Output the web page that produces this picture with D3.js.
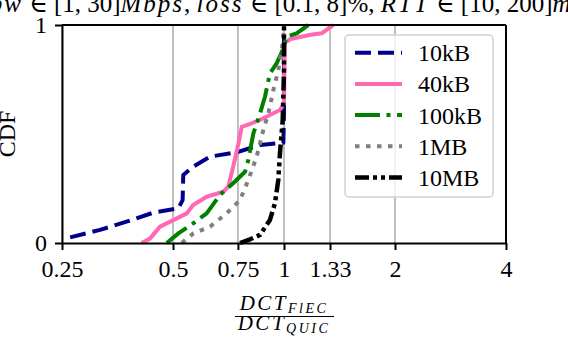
<!DOCTYPE html>
<html>
<head>
<meta charset="utf-8">
<script src="https://cdn.jsdelivr.net/npm/d3@7"></script>
<style>
  body { margin: 0; background: #fff; }
  svg { display: block; font-family: "Liberation Serif", "DejaVu Serif", serif; }
</style>
</head>
<body>
<script>
// tick values / labels on the x axis (log2 scale)
const tickValues = [0.25, 0.5, 0.75, 1, 1.333, 2, 4];
const tickLabels = ["0.25", "0.5", "0.75", "1", "1.33", "2", "4"];

// series: DCT ratio (x) and CDF (y)
const names = ["10kB", "40kB", "100kB", "1MB", "10MB"];

const ratio10kB = [0.263, 0.317, 0.374, 0.442, 0.517, 0.531, 0.533, 0.567, 0.63, 0.744, 0.861, 0.996, 1.0, 1.0];
const cdf10kB   = [0.026, 0.06, 0.098, 0.139, 0.159, 0.197, 0.312, 0.35, 0.396, 0.416, 0.45, 0.46, 0.6, 1.0];

const ratio40kB = [0.411, 0.433, 0.461, 0.501, 0.545, 0.567, 0.617, 0.684, 0.706, 0.728, 0.751, 0.768, 0.817, 0.879, 0.975, 1.0, 1.005, 1.04, 1.105, 1.18, 1.265, 1.36];
const cdf40kB   = [0.0, 0.02, 0.075, 0.105, 0.136, 0.174, 0.212, 0.235, 0.258, 0.35, 0.45, 0.533, 0.549, 0.572, 0.61, 0.64, 0.92, 0.935, 0.945, 0.955, 0.962, 1.0];

const ratio100kB = [0.481, 0.517, 0.567, 0.617, 0.67, 0.728, 0.784, 0.80, 0.826, 0.861, 0.888, 0.916, 0.955, 0.992, 1.017, 1.082, 1.164];
const cdf100kB   = [0.0, 0.044, 0.09, 0.136, 0.22, 0.274, 0.327, 0.38, 0.503, 0.595, 0.671, 0.778, 0.824, 0.885, 0.946, 0.962, 1.0];

const ratio1MB = [0.528, 0.568, 0.63, 0.699, 0.76, 0.80, 0.843, 0.879, 0.907, 0.936, 0.965, 0.986, 1.0, 1.003];
const cdf1MB   = [0.0, 0.044, 0.075, 0.136, 0.197, 0.289, 0.396, 0.518, 0.595, 0.702, 0.794, 0.885, 0.977, 1.0];

const ratio10MB = [0.76, 0.809, 0.861, 0.916, 0.945, 0.965, 0.975, 0.992, 1.0, 1.0];
const cdf10MB   = [0.0, 0.017, 0.037, 0.106, 0.182, 0.289, 0.411, 0.564, 0.794, 1.0];

// title pieces: text, italic?
const titleParts = [
  ["bw", true], [" ∈ [1, 30]", false], ["Mbps", true], [", ", false], ["loss", true],
  [" ∈ [0.1, 8]%, ", false], ["RTT", true], [" ∈ [10, 200]", false], ["ms", true]
];

const colors = ["#00008b", "#ff69b4", "#008000", "#808080", "#000000"];
const dashes = ["16,7", null, "25,6.5,4,6.5", "4.5,6.5", "14,4,4,4,4,4"];
const widths = [4, 4, 4, 4, 4.5];

const ratios = [ratio10kB, ratio40kB, ratio100kB, ratio1MB, ratio10MB];
const cdfs = [cdf10kB, cdf40kB, cdf100kB, cdf1MB, cdf10MB];
const series = names.map((n, i) => ({
  name: n,
  points: ratios[i].map((r, j) => [r, cdfs[i][j]])
}));

const width = 568, height = 356;
const margin = {top: 25, right: 62, bottom: 113, left: 62};
const fontSize = 24;

const x = d3.scaleLog().base(2)
  .domain([0.25, 4])
  .range([margin.left, width - margin.right]);

const y = d3.scaleLinear()
  .domain([0, 1])
  .range([height - margin.bottom, margin.top]);

const svg = d3.select("body").append("svg")
  .attr("width", width)
  .attr("height", height);

svg.append("defs").append("clipPath").attr("id", "plot")
  .append("rect")
  .attr("x", x.range()[0]).attr("y", y.range()[1] - 2)
  .attr("width", x.range()[1] - x.range()[0])
  .attr("height", y.range()[0] - y.range()[1] + 4);

// vertical grid
svg.append("g")
  .selectAll("line")
  .data(tickValues)
  .join("line")
  .attr("x1", d => x(d)).attr("x2", d => x(d))
  .attr("y1", y(0)).attr("y2", y(1))
  .attr("stroke", "#b0b0b0")
  .attr("stroke-width", 1.6);

// curves
const line = d3.line().x(d => x(d[0])).y(d => y(d[1]));
svg.append("g")
  .attr("clip-path", "url(#plot)")
  .selectAll("path")
  .data(series)
  .join("path")
  .attr("d", d => line(d.points))
  .attr("fill", "none")
  .attr("stroke", (d, i) => colors[i])
  .attr("stroke-width", (d, i) => widths[i])
  .attr("stroke-dasharray", (d, i) => dashes[i])
  .attr("stroke-linejoin", "round");

// axes
const xAxis = svg.append("g")
  .attr("transform", `translate(0,${y(0)})`)
  .call(d3.axisBottom(x).tickValues(tickValues)
    .tickFormat((d, i) => tickLabels[i]).tickSize(7).tickSizeOuter(0).tickPadding(10));
xAxis.select(".domain").attr("stroke-width", 2);
xAxis.selectAll(".tick line").attr("stroke-width", 2);
xAxis.selectAll("text").attr("font-size", fontSize).attr("font-family", "Liberation Serif").attr("fill", "#000");

const yAxis = svg.append("g")
  .attr("transform", `translate(${margin.left},0)`)
  .call(d3.axisLeft(y).tickValues([0, 1]).tickFormat(d3.format("d"))
    .tickSize(7).tickSizeOuter(0).tickPadding(8));
yAxis.select(".domain").attr("stroke-width", 2);
yAxis.selectAll(".tick line").attr("stroke-width", 2);
yAxis.selectAll("text").attr("font-size", fontSize).attr("font-family", "Liberation Serif").attr("fill", "#000");

// top and right spines
svg.append("line")
  .attr("x1", x.range()[0]).attr("x2", x.range()[1])
  .attr("y1", y(1)).attr("y2", y(1))
  .attr("stroke", "#000").attr("stroke-width", 2);
svg.append("line")
  .attr("x1", x.range()[1]).attr("x2", x.range()[1])
  .attr("y1", y(0)).attr("y2", y(1))
  .attr("stroke", "#000").attr("stroke-width", 2);

// title (cut off at the top and sides of the picture, as in the original)
const title = svg.append("text")
  .attr("x", 287).attr("y", 12)
  .attr("text-anchor", "middle")
  .attr("font-size", 25)
  .attr("style", "white-space: pre");
titleParts.forEach(([t, it]) => {
  const ts = title.append("tspan").text(t);
  if (it) ts.attr("font-style", "italic").attr("letter-spacing", 2);
});

// y label
svg.append("text")
  .attr("transform", `translate(15,${(y(0) + y(1)) / 2}) rotate(-90)`)
  .attr("text-anchor", "middle")
  .attr("font-size", fontSize)
  .text("CDF");

// x label as a fraction
const cx = (x.range()[0] + x.range()[1]) / 2;
const num = svg.append("text")
  .attr("x", cx).attr("y", 310)
  .attr("text-anchor", "middle")
  .attr("font-size", 21).attr("font-style", "italic")
  .attr("letter-spacing", 2.5);
num.append("tspan").text("DCT");
num.append("tspan").attr("font-size", 14).attr("dy", 3).text("FlEC");
const den = svg.append("text")
  .attr("x", cx).attr("y", 330)
  .attr("text-anchor", "middle")
  .attr("font-size", 21).attr("font-style", "italic")
  .attr("letter-spacing", 2.5);
den.append("tspan").text("DCT");
den.append("tspan").attr("font-size", 14).attr("dy", 3).text("QUIC");
svg.append("line")
  .attr("x1", cx - 49).attr("x2", cx + 50)
  .attr("y1", 316.5).attr("y2", 316.5)
  .attr("stroke", "#000").attr("stroke-width", 1.2);

// legend
const legend = svg.append("g");
legend.append("rect")
  .attr("x", 345).attr("y", 35)
  .attr("width", 148).attr("height", 162)
  .attr("rx", 4)
  .attr("fill", "#fff").attr("fill-opacity", 0.8)
  .attr("stroke", "#d0d0d0").attr("stroke-width", 1.5);
const item = legend.selectAll("g.item")
  .data(series)
  .join("g")
  .attr("transform", (d, i) => `translate(355,${52.7 + i * 31.2})`);
item.append("line")
  .attr("x1", 0).attr("x2", 47)
  .attr("stroke", (d, i) => colors[i])
  .attr("stroke-width", (d, i) => widths[i])
  .attr("stroke-dasharray", (d, i) => dashes[i]);
item.append("text")
  .attr("x", 63).attr("dy", "0.35em")
  .attr("font-size", fontSize)
  .text(d => d.name);
</script>
</body>
</html>
